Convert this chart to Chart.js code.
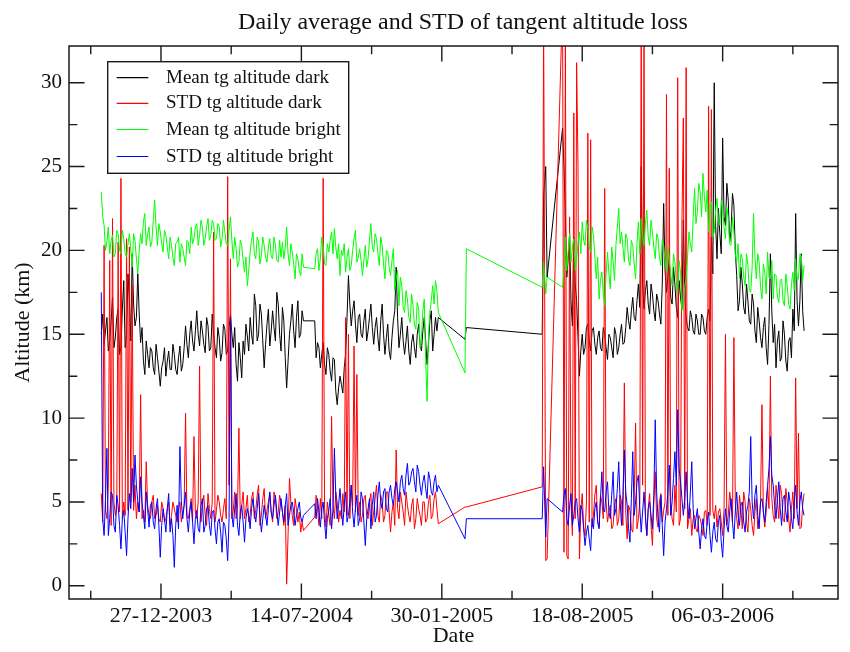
<!DOCTYPE html>
<html>
<head>
<meta charset="utf-8">
<script src="https://cdn.jsdelivr.net/npm/chart.js@4.4.0/dist/chart.umd.min.js"></script>
<style>
html,body{margin:0;padding:0;background:#ffffff;}
#wrap{width:850px;height:652px;}
</style>
</head>
<body>
<div id="wrap"><canvas id="c" width="850" height="652"></canvas></div>
<script>
// ---------- DATA (x = days since 27-12-2003) ----------
const seriesNames = ['Mean tg altitude dark', 'STD tg altitude dark', 'Mean tg altitude bright', 'STD tg altitude bright'];
const seriesColors = ['#000000', '#ff0000', '#00ff00', '#0000ff'];

const xTickDays = [0, 200, 400, 600, 800];
const xTickLabels = ['27-12-2003', '14-07-2004', '30-01-2005', '18-08-2005', '06-03-2006'];
const xMinorDays = [-100, 100, 300, 500, 700, 900];
const yTicks = [0, 5, 10, 15, 20, 25, 30];
const yMinor = [2.5, 7.5, 12.5, 17.5, 22.5, 27.5];

// first observation period (part 1 and part 2, short break between them)
const daysA1 = [-85,-83,-81,-79,-77,-75,-73,-71,-69,-67,
  -65,-63,-61,-59,-57,-55,-53,-51,-49,-47,
  -45,-43,-41,-39,-37,-35,-33,-31,-29,-27,
  -25,-23,-21,-19,-17,-15,-13,-11,-9,-7,
  -5,-3,-1,1,3,5,7,9,11,13,
  15,17,19,21,23,25,27,29,31,33,
  35,37,39,41,43,45,47,49,51,53,
  55,57,59,61,63,65,67,69,71,73,
  75,77,79,81,83,85,87,89,91,93,
  95,97,99,101,103,105,107,109,111,113,
  115,117,119,121,123,125,127,129,131,133,
  135,137,139,141,143,145,147,149,151,153,
  155,157,159,161,163,165,167,169,171,173,
  175,177,179,181,183,185,187,189,191,193,
  195,197,199,201,203];
const daysA2 = [219,221,223,225,227,229,231,233,235,237,
  239,241,243,245,247,249,251,253,255,257,
  259,261,263,265,267,269,271,273,275,277,
  279,281,283,285,287,289,291,293,295,297,
  299,301,303,305,307,309,311,313,315,317,
  319,321,323,325,327,329,331,333,335,337,
  339,341,343,345,347,349,351,353,355,357,
  359,361,363,365,367,369,371,373,375,377,
  379,381,383,385,387,389,391,393,395];
// isolated days
const daysB = [433, 435];
// second observation period
const daysC = [543,545,548,550,572,574,
  576,578,580,582,584,586,588,590,592,594,
  596,598,600,602,604,606,608,610,612,614,
  616,618,620,622,624,626,628,630,632,634,
  636,638,640,642,644,646,648,650,652,654,
  656,658,660,662,664,666,668,670,672,674,
  676,678,680,682,684,686,688,690,692,694,
  696,698,700,702,704,706,708,710,712,714,
  716,718,720,722,724,726,728,730,732,734,
  736,738,740,742,744,746,748,750,752,754,
  756,758,760,762,764,766,768,770,772,774,
  776,778,780,782,784,786,788,790,792,794,
  796,798,800,802,804,806,808,810,812,814,
  816,818,820,822,824,826,828,830,832,834,
  836,838,840,842,844,846,848,850,852,854,
  856,858,860,862,864,866,868,870,872,874,
  876,878,880,882,884,886,888,890,892,894,
  896,898,900,902,904,906,908,910,912,914,
  916];

// Mean tg altitude dark
const meanDarkA1 = [15.0,16.2,14.4,15.2,16.0,14.0,14.6,15.8,17.2,14.2,
  14.8,16.0,16.5,13.8,14.2,16.5,18.2,14.2,15.0,18.6,
  17.0,14.6,19.8,16.8,15.5,16.0,18.6,16.2,14.5,15.4,
  13.4,12.6,14.6,13.8,13.0,14.2,14.0,13.0,12.6,14.4,
  13.6,12.8,11.9,13.0,13.4,14.2,12.5,13.4,14.0,12.9,
  12.9,14.4,13.8,12.9,12.6,13.6,14.3,12.8,13.2,14.2,
  15.5,14.4,13.6,15.0,15.8,14.6,14.0,15.2,16.4,15.0,
  14.3,15.8,15.2,14.4,13.9,16.0,15.5,14.0,14.2,16.2,
  15.0,14.2,13.6,15.4,14.8,13.4,13.9,15.6,15.3,13.8,
  14.0,15.4,16.2,15.0,14.2,15.4,13.2,12.2,14.5,13.6,
  12.4,14.6,13.8,15.6,14.9,14.0,16.0,15.0,14.4,17.4,
  16.7,14.6,15.0,16.8,16.2,14.6,13.0,14.4,15.6,16.5,
  14.3,15.2,16.4,15.4,14.6,17.5,16.8,15.0,14.0,16.6,
  15.8,13.6,11.8,13.4,15.0,15.8,16.8,15.2,14.2,16.0,
  17.0,14.8,15.0,16.4,15.8];
const meanDarkA2 = [15.8,13.6,14.5,14.2,13.0,13.8,14.5,13.2,12.6,14.2,
  13.8,12.8,12.2,13.6,13.5,11.6,10.8,11.8,12.5,12.0,
  11.5,13.0,13.8,16.0,18.5,16.8,15.5,16.4,17.0,15.6,
  14.5,16.0,16.2,15.0,14.8,15.8,16.5,14.6,15.2,16.0,
  16.8,15.4,14.4,15.4,16.0,14.8,14.0,15.8,16.8,15.0,
  13.8,14.8,15.6,14.0,13.5,14.8,15.8,16.4,19.0,16.0,
  14.2,15.0,16.0,14.6,13.8,14.6,15.5,14.0,13.2,14.5,
  15.0,14.2,13.6,15.0,15.6,14.4,14.0,15.2,16.0,14.6,
  13.2,14.4,15.8,16.4,14.0,15.0,16.0,15.2,16.0];
const meanDarkB = [14.7, 15.4];
const meanDarkC = [15.0,23.3,25.0,18.4,27.3,25.0,
  22.0,18.4,19.5,21.0,17.0,15.5,20.8,18.0,17.0,14.8,
  12.5,14.0,15.0,13.8,14.2,15.4,15.6,14.6,14.0,15.2,
  15.4,14.4,13.8,14.8,15.2,14.2,14.0,15.4,15.0,14.2,
  13.5,15.0,14.8,14.2,13.6,15.4,15.0,13.8,14.2,15.0,
  15.6,14.4,14.5,15.4,16.6,15.8,15.3,16.4,17.2,16.0,
  15.8,17.0,18.0,16.6,25.0,18.0,16.5,17.6,18.2,16.8,
  16.2,18.0,17.4,16.4,15.8,17.4,17.0,16.2,15.6,18.0,
  22.8,18.8,17.5,18.4,19.5,17.2,16.8,19.0,18.0,16.6,
  16.0,18.2,17.2,16.5,21.8,17.5,16.0,15.4,15.2,16.4,
  16.0,15.2,15.0,16.2,15.8,15.0,15.0,16.2,16.0,15.2,
  15.0,16.0,16.5,15.8,20.8,18.6,30.0,21.5,19.5,22.5,
  21.0,19.8,26.7,22.0,21.5,24.0,23.0,20.5,21.2,23.4,
  22.7,20.0,18.5,16.4,17.0,19.0,18.0,16.6,16.2,18.0,
  17.0,15.8,15.6,17.4,16.8,15.2,14.5,16.6,15.8,14.8,
  14.2,15.4,16.0,14.2,13.2,15.6,19.8,16.4,14.5,15.6,
  13.0,14.6,15.2,13.4,13.6,15.8,15.0,13.4,12.8,14.6,
  14.8,13.6,16.5,15.2,22.2,17.0,15.5,17.0,19.8,16.4,
  15.2];

// STD tg altitude dark
const stdDarkA1 = [5.5,3.8,20.3,4.5,4.0,6.0,19.4,3.6,21.9,5.0,
  4.2,4.6,20.5,4.4,24.3,4.0,5.0,4.2,20.7,4.5,
  20.2,5.0,18.0,4.5,6.0,4.0,5.0,4.4,11.4,4.0,
  4.5,3.8,7.4,4.8,4.2,4.0,5.0,5.4,4.0,4.2,
  4.8,4.0,3.8,5.0,4.6,3.8,4.0,4.6,5.0,3.6,
  4.2,5.0,4.6,4.2,3.8,4.6,5.0,3.8,4.4,4.8,
  10.3,4.2,4.0,4.6,5.2,3.8,8.9,4.4,4.0,5.0,
  13.1,3.8,4.8,5.4,4.2,3.6,5.5,4.6,4.0,5.0,
  21.1,3.8,4.5,5.4,5.0,4.2,3.8,4.6,5.2,4.0,
  24.4,6.0,19.5,4.0,4.5,5.6,4.0,4.6,9.4,4.0,
  4.8,5.6,4.0,4.6,5.4,3.8,4.2,5.2,5.6,4.0,
  4.5,5.4,6.0,3.6,4.2,5.2,5.8,4.0,4.5,5.0,
  5.5,4.4,3.8,5.6,5.2,4.0,4.4,5.4,5.0,4.4,
  3.6,4.8,0.1,3.0,6.4,5.0,4.2,3.6,5.2,4.6,
  3.8,4.4,3.2,3.8,3.3];
const stdDarkA2 = [4.1,5.4,4.6,3.6,5.2,4.0,24.3,4.6,3.5,5.0,
  4.2,3.6,10.1,4.8,4.0,5.6,5.0,3.8,4.5,4.0,
  5.5,4.4,16.0,4.2,15.0,4.0,6.0,4.8,14.3,4.4,
  12.6,4.2,5.0,3.8,4.2,5.2,5.4,4.2,4.0,5.0,
  5.5,3.6,4.4,5.2,6.0,4.2,3.8,5.4,5.0,3.8,
  4.2,5.6,5.6,4.4,3.2,4.4,5.0,3.6,8.1,4.6,
  4.0,5.6,5.0,4.4,3.6,5.6,4.8,4.2,3.8,4.8,
  5.2,3.4,4.0,5.2,4.6,4.2,3.6,5.0,5.0,3.8,
  4.0,5.0,5.4,4.0,4.2,5.2,5.6,4.6,3.7];
const stdDarkB = [4.7, 4.7];
const stdDarkC = [5.9,34,1.5,1.6,35,2.0,
  33,1.8,1.6,22.0,5.0,3.0,28.2,4.0,31.2,25.0,
  1.6,4.5,5.5,3.5,3.0,5.0,27.0,3.8,26.6,3.5,
  4.2,5.4,6.0,3.8,3.5,5.4,5.0,4.0,23.7,5.0,
  3.8,4.4,4.8,3.4,3.6,4.8,5.2,3.6,4.0,5.4,
  5.0,3.6,12.1,4.4,2.8,4.8,4.5,3.4,3.2,5.2,
  9.7,3.4,4.0,5.0,33,6.0,33,4.0,3.0,4.6,
  5.5,3.6,2.4,5.0,6.8,4.0,3.5,5.0,5.5,3.8,
  4.5,5.0,29.3,4.2,24.9,5.0,4.0,3.6,6.0,4.4,
  30.3,3.6,4.0,21.7,27.9,4.6,30.9,3.4,4.0,4.6,
  3.0,4.0,4.2,3.4,3.2,4.2,4.0,3.6,3.0,4.4,
  4.5,3.6,28.6,4.2,28.4,4.5,4.0,4.8,3.5,4.4,
  4.6,3.8,3.0,4.6,15.0,3.6,4.2,5.6,5.0,3.8,
  14.8,5.0,4.0,3.4,5.4,4.6,3.4,5.6,5.0,3.8,
  3.2,5.2,4.6,3.6,3.0,4.4,5.2,3.4,4.0,5.0,
  10.8,4.4,3.5,4.4,5.8,4.6,12.5,5.2,4.2,3.8,
  6.0,5.0,4.0,6.0,5.5,4.0,3.8,5.8,5.0,4.0,
  3.2,4.6,5.6,4.0,12.4,4.6,9.1,3.4,3.5,4.8,
  5.5];

// Mean tg altitude bright
const meanBrightA1 = [23.5,22.0,21.5,20.0,20.5,21.4,19.8,20.6,20.9,19.6,
  19.8,21.2,21.0,20.0,19.8,21.2,20.7,19.8,19.6,20.4,
  21.0,20.0,19.0,21.0,20.6,19.5,18.6,20.0,21.0,20.4,
  21.7,22.2,20.3,21.0,21.4,20.2,20.5,21.8,23.0,21.4,
  20.3,21.6,21.1,20.4,19.9,21.2,20.9,20.2,19.5,20.8,
  20.3,19.6,19.1,20.4,20.5,20.8,19.3,20.4,20.1,19.6,
  19.1,20.6,20.5,19.8,21.4,20.4,20.7,21.4,21.6,20.3,
  20.9,21.8,21.4,20.3,20.7,21.4,21.9,20.6,20.9,21.8,
  21.6,20.6,20.7,21.6,21.4,20.2,20.7,21.8,21.1,20.4,
  20.3,21.2,22.0,20.6,19.5,20.8,20.1,19.0,19.3,20.6,
  20.3,19.4,18.7,19.6,17.9,18.8,19.9,20.6,21.1,19.8,
  19.5,20.8,20.5,19.2,19.7,20.8,20.3,19.6,19.3,20.2,
  20.7,19.6,19.5,20.8,20.3,19.4,19.3,20.6,19.6,20.5,
  19.5,20.2,21.4,19.8,19.1,20.4,19.9,19.2,18.3,19.8,
  19.5,18.8,18.5,19.8,19.0];
const meanBrightA2 = [18.9,19.8,20.1,18.8,19.5,20.8,20.3,19.2,19.1,20.4,
  19.9,20.6,21.1,19.8,21.3,20.2,19.5,20.4,18.5,20.0,
  19.7,20.4,18.7,19.6,20.1,18.8,19.1,20.0,20.7,21.2,
  19.3,19.6,20.1,19.4,18.5,19.4,20.3,19.0,19.5,20.6,
  21.6,20.2,19.9,21.0,20.7,19.8,19.1,20.8,20.3,19.2,
  18.3,20.0,19.9,19.0,18.5,19.4,20.1,17.6,18.3,18.8,
  16.7,18.4,17.9,16.6,16.3,17.6,17.1,16.0,15.7,17.4,
  16.7,15.6,15.3,16.9,16.5,14.2,14.8,16.4,17.1,13.4,
  11.0,15.0,16.3,17.0,17.9,16.8,18.2,17.6,16.3];
const meanBrightB = [12.7, 20.1];
const meanBrightC = [17.8,19.3,17.4,18.4,17.8,18.8,
  20.8,18.8,19.9,21.0,19.3,20.2,20.7,18.8,19.5,20.4,
  21.1,19.8,21.7,20.6,20.3,21.8,21.3,20.2,19.9,21.4,
  20.9,19.6,18.3,19.6,17.1,18.2,18.7,17.4,16.7,18.6,
  19.9,18.6,17.7,20.2,19.3,18.2,20.3,21.4,22.5,20.4,
  21.1,20.2,19.3,21.0,20.7,19.4,19.1,20.6,20.3,19.2,
  18.3,20.4,21.7,19.8,21.9,20.8,20.3,21.6,22.4,20.8,
  20.3,21.8,21.1,20.2,19.5,21.0,20.7,19.6,19.1,20.6,
  20.3,19.4,18.7,20.2,19.5,18.6,17.9,19.8,19.3,18.2,
  17.5,19.4,18.7,16.4,16.7,17.8,18.3,19.6,21.1,20.4,
  19.9,22.0,23.7,21.6,22.3,24.0,23.5,22.0,24.6,23.2,
  22.3,23.6,21.1,22.6,22.9,20.8,21.1,22.4,23.1,21.8,
  21.5,23.0,22.5,21.4,20.7,22.6,21.9,20.4,20.3,22.0,
  21.1,19.8,19.3,20.4,18.3,19.8,19.5,18.4,17.9,19.8,
  19.1,17.6,17.5,19.0,22.2,19.6,18.3,19.8,19.3,17.8,
  17.1,19.2,18.7,17.4,19.9,18.4,18.3,19.4,17.1,18.6,
  18.5,17.2,16.9,18.2,18.3,17.0,16.7,18.6,17.9,16.8,
  16.5,18.0,18.7,17.6,19.5,18.2,18.3,19.8,19.7,18.2,
  19.1];

// STD tg altitude bright
const stdBrightA1 = [17.5,4.0,3.0,5.2,8.2,3.0,4.0,5.6,5.4,3.6,
  3.2,5.4,4.8,3.6,2.2,4.0,4.5,3.2,1.8,4.0,
  5.5,4.6,7.0,5.0,7.8,6.0,5.0,4.4,6.5,5.0,
  4.2,3.4,5.6,4.6,3.5,4.8,5.0,3.8,3.4,4.6,
  5.2,3.6,1.7,3.6,4.6,4.0,3.2,4.6,5.5,3.2,
  4.0,3.0,1.1,3.6,4.8,3.4,8.3,5.0,4.0,4.8,
  5.6,4.0,3.2,4.4,5.0,3.8,2.5,4.0,4.5,3.4,
  3.2,4.8,5.2,3.2,3.6,4.6,4.8,3.6,3.0,4.4,
  4.5,3.4,2.5,3.8,4.0,3.2,2.0,3.8,3.6,2.8,
  1.5,4.0,16.0,4.2,3.5,4.6,5.5,3.6,3.0,4.4,
  4.8,3.8,2.6,4.0,4.6,4.2,3.4,4.6,5.2,4.4,
  3.8,4.6,5.5,4.2,3.2,4.0,4.8,4.2,3.6,4.6,
  5.6,4.4,4.0,4.8,5.4,4.4,3.6,4.4,5.2,4.4,
  3.8,4.8,5.5,3.6,4.2,4.8,5.0,4.4,3.6,4.2,
  4.6,5.0,4.1,3.8,4.2];
const stdBrightA2 = [4.9,4.0,5.2,4.4,3.5,4.6,5.0,3.8,2.8,4.0,
  4.5,5.2,3.4,4.6,8.2,5.4,4.0,4.8,5.8,4.6,
  3.6,4.8,5.6,3.8,4.2,5.0,6.0,4.4,3.5,4.6,
  5.4,3.6,4.0,5.6,5.2,3.8,2.4,4.0,4.6,5.2,
  3.4,4.8,5.6,3.8,4.2,5.4,6.2,5.0,4.6,5.6,
  5.8,4.6,4.4,5.6,6.0,5.2,4.8,5.8,6.2,5.6,
  5.0,6.2,6.6,5.8,5.4,6.6,7.3,6.0,6.2,6.8,
  7.0,6.2,5.6,7.2,6.8,6.0,5.4,6.2,6.6,5.8,
  5.2,6.8,6.4,5.6,5.4,6.2,6.6,5.6,6.0];
const stdBrightB = [2.8, 4.0];
const stdBrightC = [4.0,7.1,2.9,5.2,4.4,5.4,
  5.8,4.0,3.6,4.8,5.5,3.6,4.2,5.0,5.2,4.0,
  3.2,4.8,4.5,3.4,2.4,3.2,3.6,2.8,2.1,4.0,
  3.4,4.6,5.0,3.8,3.4,5.2,6.8,4.6,4.4,5.6,
  6.2,4.4,4.0,5.4,6.8,4.2,4.6,5.8,7.4,5.0,
  3.6,5.4,8.1,5.6,4.8,3.4,2.6,5.2,8.0,4.2,
  5.0,6.2,6.6,4.6,3.2,4.4,5.6,4.2,3.0,4.6,
  5.0,4.2,3.4,5.4,9.9,5.6,4.0,3.2,5.4,3.6,
  1.8,3.8,4.6,5.6,7.2,4.2,5.0,6.4,8.0,6.0,
  10.5,7.0,6.2,5.2,4.2,5.2,6.8,5.0,4.0,5.6,
  7.4,4.6,3.4,4.0,4.6,3.2,2.2,3.4,4.0,3.0,
  2.8,3.8,4.4,3.0,2.0,3.2,3.8,2.8,2.6,3.8,
  4.2,2.6,1.7,3.4,4.6,3.6,3.2,4.4,5.2,3.8,
  2.8,4.4,5.6,4.2,3.6,4.8,5.0,3.8,3.2,4.4,
  4.8,5.6,8.9,5.0,4.0,5.4,6.0,4.2,3.4,5.0,
  5.2,4.4,3.8,5.0,6.0,7.0,8.9,6.6,6.0,4.8,
  4.0,5.2,6.2,4.6,3.6,5.2,5.4,4.4,3.8,5.6,
  5.0,4.0,3.4,5.0,6.0,4.4,3.6,5.0,5.6,4.6,
  4.2];

// ---------- BUILD ----------
const allDays = daysA1.concat(daysA2, daysB, daysC);
function points(a1, a2, b, c) {
  const v = a1.concat(a2, b, c);
  const n = Math.min(v.length, allDays.length);
  const out = [];
  for (let i = 0; i < n; i++) out.push({x: allDays[i], y: v[i]});
  return out;
}

const SERIF = "'Liberation Serif', 'Times New Roman', serif";
Chart.defaults.font.family = SERIF;
Chart.defaults.color = '#111111';

const frameTicks = {
  id: 'frameTicks',
  afterDatasetsDraw(chart) {
    const {ctx, chartArea: a, scales: {x, y}} = chart;
    ctx.save();
    ctx.strokeStyle = '#1a1a1a';
    ctx.lineWidth = 1.4;
    ctx.beginPath();
    const vt = (v, len) => {
      const p = x.getPixelForValue(v);
      ctx.moveTo(p, a.bottom); ctx.lineTo(p, a.bottom - len);
      ctx.moveTo(p, a.top); ctx.lineTo(p, a.top + len);
    };
    const ht = (v, len) => {
      const p = y.getPixelForValue(v);
      ctx.moveTo(a.left, p); ctx.lineTo(a.left + len, p);
      ctx.moveTo(a.right, p); ctx.lineTo(a.right - len, p);
    };
    xTickDays.forEach(v => vt(v, 15.5));
    xMinorDays.forEach(v => vt(v, 8.3));
    yTicks.forEach(v => ht(v, 15.5));
    yMinor.forEach(v => ht(v, 8.3));
    ctx.stroke();
    ctx.lineWidth = 1.5;
    ctx.strokeRect(a.left, a.top, a.right - a.left, a.bottom - a.top);
    ctx.restore();
  }
};

const legendBox = {
  id: 'legendBox',
  afterDatasetsDraw(chart) {
    const ctx = chart.ctx;
    ctx.save();
    const bx = 107.7, by = 61.7, bw = 241, bh = 111.6;
    ctx.fillStyle = '#ffffff';
    ctx.fillRect(bx, by, bw, bh);
    ctx.strokeStyle = '#1a1a1a';
    ctx.lineWidth = 1.4;
    ctx.strokeRect(bx, by, bw, bh);
    const rows = [77.7, 103.3, 129.5, 156.5];
    ctx.font = '19px ' + SERIF;
    ctx.textBaseline = 'alphabetic';
    chart.data.datasets.forEach((ds, i) => {
      ctx.strokeStyle = ds.borderColor;
      ctx.lineWidth = 1.2;
      ctx.beginPath();
      ctx.moveTo(116.7, rows[i]); ctx.lineTo(148.3, rows[i]);
      ctx.stroke();
      ctx.fillStyle = '#111111';
      ctx.fillText(ds.label, 166, rows[i] + 5);
    });
    ctx.restore();
  }
};

const titleText = {
  id: 'titleText',
  afterDraw(chart) {
    const ctx = chart.ctx;
    ctx.save();
    ctx.font = '24px ' + SERIF;
    ctx.fillStyle = '#111111';
    ctx.textAlign = 'center';
    ctx.textBaseline = 'alphabetic';
    ctx.fillText('Daily average and STD of tangent altitude loss', 463, 28.5);
    ctx.restore();
  }
};

new Chart(document.getElementById('c'), {
  type: 'line',
  data: {
    datasets: [
      {label: seriesNames[0], data: points(meanDarkA1, meanDarkA2, meanDarkB, meanDarkC), borderColor: seriesColors[0], order: 4},
      {label: seriesNames[1], data: points(stdDarkA1, stdDarkA2, stdDarkB, stdDarkC), borderColor: seriesColors[1], order: 3},
      {label: seriesNames[2], data: points(meanBrightA1, meanBrightA2, meanBrightB, meanBrightC), borderColor: seriesColors[2], order: 2},
      {label: seriesNames[3], data: points(stdBrightA1, stdBrightA2, stdBrightB, stdBrightC), borderColor: seriesColors[3], order: 1}
    ]
  },
  options: {
    responsive: false,
    animation: false,
    devicePixelRatio: 1,
    layout: {padding: {top: 46, right: 12, left: 0, bottom: 0}},
    elements: {
      line: {borderWidth: 1, tension: 0, fill: false},
      point: {radius: 0, hoverRadius: 0}
    },
    plugins: {
      legend: {display: false},
      title: {display: false},
      tooltip: {enabled: false}
    },
    scales: {
      x: {
        type: 'linear',
        min: -131,
        max: 964.3,
        grid: {display: false, drawTicks: false},
        border: {display: false},
        afterBuildTicks: ax => { ax.ticks = xTickDays.map(v => ({value: v})); },
        ticks: {
          callback: (v, i) => xTickLabels[xTickDays.indexOf(v)],
          font: {size: 22},
          padding: 3.6,
          maxRotation: 0,
          autoSkip: false,
          color: '#111111'
        },
        title: {display: true, text: 'Date', font: {size: 22}, padding: {top: 0, bottom: 2.8}, color: '#111111'},
        afterFit: s => { s.height = 53; }
      },
      y: {
        min: -0.787,
        max: 32.19,
        grid: {display: false, drawTicks: false},
        border: {display: false},
        afterBuildTicks: ax => { ax.ticks = yTicks.map(v => ({value: v})); },
        ticks: {font: {size: 21}, padding: 7, color: '#111111'},
        title: {display: true, text: 'Altitude (km)', font: {size: 22}, padding: {top: 9.8, bottom: 0}, color: '#111111'},
        afterFit: s => { s.width = 69; }
      }
    }
  },
  plugins: [frameTicks, legendBox, titleText]
});
</script>
</body>
</html>
